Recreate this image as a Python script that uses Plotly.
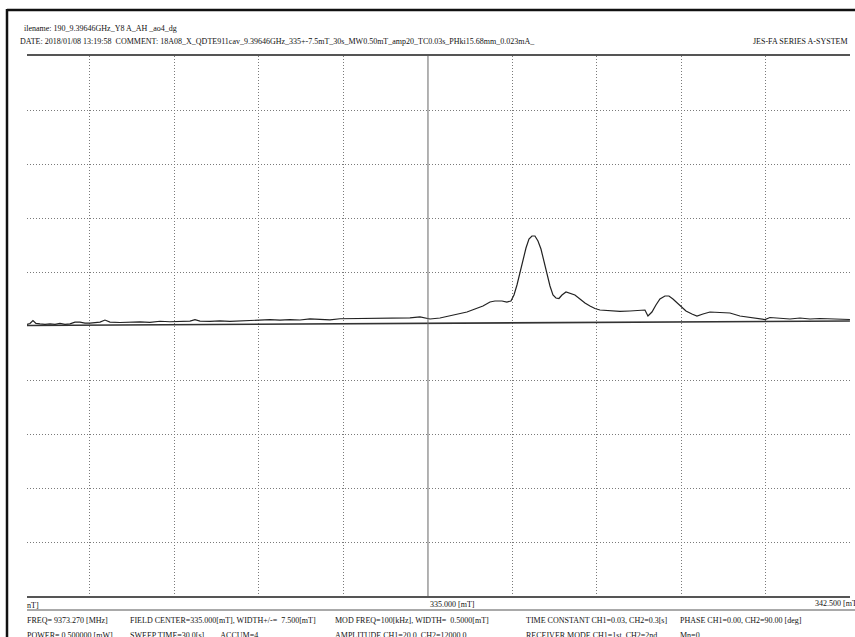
import plotly.graph_objects as go

# Magnetic field (mT) and signal (arbitrary units, 1 unit = 1 grid division)
field_mT = [327.882, 327.935, 327.988, 328.041, 328.112, 328.201, 328.290, 328.379, 328.467,
            328.556, 328.645, 328.734, 328.822, 328.911, 329.000, 329.178, 329.266, 329.355,
            329.533, 329.710, 329.888, 330.065, 330.243, 330.420, 330.598, 330.775, 330.864,
            330.953, 331.130, 331.308, 331.485, 331.663, 331.840, 332.018, 332.195, 332.373,
            332.550, 332.728, 332.905, 333.083, 333.260, 333.438, 333.615, 333.793, 333.970,
            334.148, 334.325, 334.503, 334.680, 334.858, 335.036, 335.213, 335.391, 335.568,
            335.692, 335.834, 335.976, 336.101, 336.189, 336.314, 336.402, 336.473, 336.527,
            336.580, 336.633, 336.686, 336.740, 336.793, 336.846, 336.899, 336.953, 337.006,
            337.059, 337.112, 337.166, 337.219, 337.272, 337.325, 337.379, 337.450, 337.521,
            337.609, 337.698, 337.787, 337.876, 337.964, 338.053, 338.231, 338.408, 338.586,
            338.763, 338.852, 338.905, 338.976, 339.047, 339.118, 339.207, 339.278, 339.349,
            339.420, 339.491, 339.580, 339.686, 339.775, 339.882, 340.006, 340.183, 340.361,
            340.538, 340.716, 340.893, 340.982, 341.071, 341.249, 341.426, 341.604, 341.781,
            341.959, 342.136, 342.314, 342.491]
signal = [0.028, 0.047, 0.102, 0.047, 0.038, 0.030, 0.039, 0.031, 0.050,
          0.032, 0.041, 0.070, 0.070, 0.052, 0.053, 0.072, 0.110, 0.073,
          0.065, 0.075, 0.076, 0.068, 0.088, 0.079, 0.080, 0.091, 0.119,
          0.092, 0.084, 0.094, 0.086, 0.096, 0.106, 0.107, 0.117, 0.109,
          0.119, 0.111, 0.131, 0.122, 0.114, 0.134, 0.135, 0.145, 0.137,
          0.138, 0.148, 0.140, 0.150, 0.170, 0.130, 0.148, 0.191, 0.222,
          0.259, 0.315, 0.370, 0.444, 0.463, 0.463, 0.444, 0.463, 0.574,
          0.759, 1.000, 1.241, 1.444, 1.611, 1.667, 1.667, 1.574, 1.426,
          1.204, 0.963, 0.741, 0.574, 0.519, 0.509, 0.574, 0.630, 0.611,
          0.574, 0.500, 0.426, 0.370, 0.324, 0.296, 0.278, 0.269, 0.278,
          0.296, 0.296, 0.185, 0.259, 0.389, 0.500, 0.556, 0.556, 0.500,
          0.426, 0.352, 0.278, 0.222, 0.185, 0.222, 0.259, 0.250, 0.241,
          0.185, 0.157, 0.130, 0.120, 0.157, 0.139, 0.130, 0.148, 0.130,
          0.139, 0.130, 0.120, 0.120]

baseline_field = [327.882, 342.491]
baseline_level = [0.009, 0.093]

x_range = [327.882, 342.492]
y_range = [-5, 5]
x_grid = [329.0, 330.5, 332.0, 333.5, 336.5, 338.0, 339.5, 341.0]
y_grid = [-4, -3, -2, -1, 1, 2, 3, 4]
center_field = 335.0

header1 = "ilename: 190_9.39646GHz_Y8 A_AH _ao4_dg"
header2 = ("DATE: 2018/01/08 13:19:58&nbsp;&nbsp;COMMENT: 18A08_X_QDTE911cav_9.39646GHz_335+-7.5mT_30s_"
           "MW0.50mT_amp20_TC0.03s_PHki15.68mm_0.023mA_")
system_name = "JES-FA SERIES A-SYSTEM"
axis_labels = ["nT]", "335.000 [mT]", "342.500 [mT]"]
row1 = ["FREQ= 9373.270 [MHz]", "FIELD CENTER=335.000[mT], WIDTH+/-=&nbsp;&nbsp;7.500[mT]",
        "MOD FREQ=100[kHz], WIDTH=&nbsp;&nbsp;0.5000[mT]", "TIME CONSTANT CH1=0.03, CH2=0.3[s]",
        "PHASE CH1=0.00, CH2=90.00 [deg]"]
row2 = ["POWER= 0.500000 [mW]", "SWEEP TIME=30.0[s]&nbsp;&nbsp;&nbsp;&nbsp;&nbsp;&nbsp;&nbsp;&nbsp;ACCUM=4",
        "AMPLITUDE CH1=20.0, CH2=12000.0", "RECEIVER MODE CH1=1st, CH2=2nd", "Mn=0"]

W, H = 855, 637
L, R, T, B = 27, 5, 56, 41
PW, PH = W - L - R, H - T - B


def px(xp):
    return (xp - L) / PW


def py(yp):
    return (H - B - yp) / PH


FONT = dict(family="Liberation Serif, Times New Roman, serif", size=8, color="#111111")

fig = go.Figure()
fig.add_trace(go.Scatter(x=baseline_field, y=baseline_level, mode="lines",
                         line=dict(color="#333333", width=1.6), hoverinfo="skip"))
fig.add_trace(go.Scatter(x=field_mT, y=signal, mode="lines",
                         line=dict(color="#222222", width=1.2)))

shapes = []
# centre vertical line (solid)
shapes.append(dict(type="line", xref="x", yref="paper", x0=center_field, x1=center_field,
                   y0=0, y1=1, line=dict(color="#666666", width=1)))
# page border (scan frame)
shapes.append(dict(type="line", xref="paper", yref="paper", x0=px(7), x1=px(856),
                   y0=py(10), y1=py(10), line=dict(color="#111111", width=2.5)))
shapes.append(dict(type="line", xref="paper", yref="paper", x0=px(7), x1=px(7),
                   y0=py(9), y1=py(640), line=dict(color="#111111", width=2.5)))
# line under the axis labels
shapes.append(dict(type="line", xref="paper", yref="paper", x0=0, x1=px(856),
                   y0=py(610), y1=py(610), line=dict(color="#555555", width=1)))

ann = []


def text(s, x, y, anchor="left"):
    ann.append(dict(text=s, x=px(x), y=py(y), xref="paper", yref="paper", showarrow=False,
                    xanchor=anchor, yanchor="middle", font=FONT, borderpad=0))


text(header1, 23, 29)
text(header2, 19, 41)
text(system_name, 849, 41, "right")
text(axis_labels[0], 26, 605)
text(axis_labels[1], 429, 604)
text(axis_labels[2], 814, 603)
for s, x in zip(row1, [26, 129, 334, 525, 679]):
    text(s, x, 620)
for s, x in zip(row2, [26, 129, 334, 525, 679]):
    text(s, x, 636)

fig.update_layout(
    width=W, height=H, margin=dict(l=L, r=R, t=T, b=B),
    paper_bgcolor="white", plot_bgcolor="white", showlegend=False,
    shapes=shapes, annotations=ann,
    xaxis=dict(range=x_range, tickvals=x_grid, showticklabels=False, ticks="",
               showgrid=True, gridcolor="#7a7a7a", griddash="1px,2px", gridwidth=1,
               zeroline=False, showline=True, mirror=True, linecolor="#555555", linewidth=1.5),
    yaxis=dict(range=y_range, tickvals=y_grid, showticklabels=False, ticks="",
               showgrid=True, gridcolor="#7a7a7a", griddash="1px,2px", gridwidth=1,
               zeroline=False, showline=False),
)

fig.write_html("out.html", config={"displayModeBar": False},
               post_script="document.body.style.margin='0';document.body.style.overflow='hidden';")
